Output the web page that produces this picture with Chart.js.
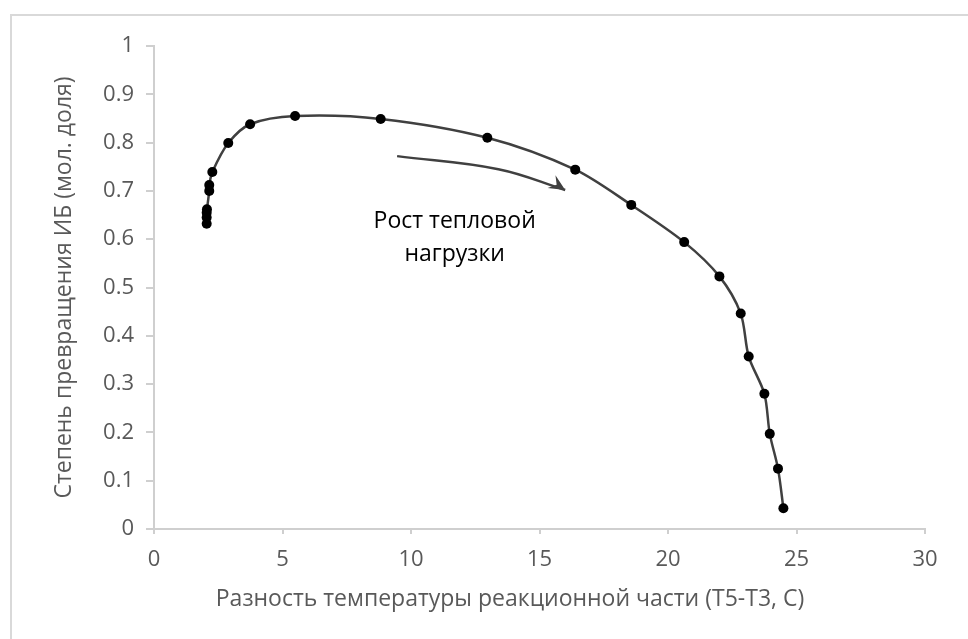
<!DOCTYPE html>
<html lang="ru">
<head>
    <meta charset="UTF-8">
    <title>Степень превращения ИБ</title>
    <style>
        html, body { margin: 0; padding: 0; background: #fff; overflow: hidden; }
        #wrap { position: relative; width: 968px; height: 639px; }
        #frame {
            position: absolute; left: 10px; top: 14px;
            width: 1000px; height: 700px;
            border: 2px solid #d9d9d9;
        }
        canvas { position: absolute; left: 0; top: 0; }
    </style>
    <script src="https://cdn.jsdelivr.net/npm/chart.js"></script>
</head>
<body>
<div id="wrap">
    <div id="frame"></div>
    <canvas id="chart" width="968" height="639"></canvas>
</div>
<script>
    // data
    const deltaT = [2.05, 2.05, 2.05, 2.06, 2.15, 2.15, 2.27, 2.89, 3.74, 5.49, 8.82, 12.97, 16.39, 18.57, 20.63, 22.0, 22.83, 23.14, 23.75, 23.96, 24.28, 24.49];
    const conversion = [0.632, 0.645, 0.655, 0.662, 0.700, 0.712, 0.739, 0.799, 0.838, 0.855, 0.849, 0.810, 0.744, 0.671, 0.594, 0.523, 0.446, 0.357, 0.280, 0.197, 0.125, 0.043];

    // arrow "Рост тепловой нагрузки" in data units
    const arrowX = [9.46, 13.4, 16.0];
    const arrowY = [0.772, 0.745, 0.702];
    const noteLines = ['Рост тепловой', 'нагрузки'];
    const noteX = 11.7;
    const noteY = [0.636, 0.569];

    const xTicks = [0, 5, 10, 15, 20, 25, 30];
    const yTicks = [0, 0.1, 0.2, 0.3, 0.4, 0.5, 0.6, 0.7, 0.8, 0.9, 1];
    const xTitle = 'Разность температуры реакционной части (T5-T3, C)';
    const yTitle = 'Степень превращения ИБ (мол. доля)';

    const FONT = 'Open Sans';
    const AXIS = '#cfcfcf';
    const LABEL = '#595959';

    const points = deltaT.map((x, i) => ({ x: x, y: conversion[i] }));
    const arrowPts = arrowX.map((x, i) => ({ x: x, y: arrowY[i] }));

    const extras = {
        id: 'extras',
        afterDatasetsDraw(chart) {
            const ctx = chart.ctx;
            const xs = chart.scales.x, ys = chart.scales.y;
            // arrow head
            const n = arrowX.length;
            const tx = xs.getPixelForValue(arrowX[n - 1]), ty = ys.getPixelForValue(arrowY[n - 1]);
            const px = xs.getPixelForValue(arrowX[n - 1] - 0.4);
            const py = ys.getPixelForValue(arrowY[n - 1] + 0.013);
            const a = Math.atan2(ty - py, tx - px);
            ctx.save();
            ctx.fillStyle = '#404040';
            ctx.beginPath();
            ctx.moveTo(tx, ty);
            ctx.lineTo(tx - 16 * Math.cos(a) + 7.5 * Math.sin(a), ty - 16 * Math.sin(a) - 7.5 * Math.cos(a));
            ctx.lineTo(tx - 10 * Math.cos(a), ty - 10 * Math.sin(a));
            ctx.lineTo(tx - 16 * Math.cos(a) - 7.5 * Math.sin(a), ty - 16 * Math.sin(a) + 7.5 * Math.cos(a));
            ctx.closePath();
            ctx.fill();
            // note text
            ctx.fillStyle = '#000';
            ctx.font = '23px "' + FONT + '"';
            ctx.textAlign = 'center';
            ctx.textBaseline = 'middle';
            noteLines.forEach((t, i) => {
                ctx.fillText(t, xs.getPixelForValue(noteX), ys.getPixelForValue(noteY[i]));
            });
            // x axis title (Excel puts it a bit left of the plot centre)
            ctx.fillStyle = LABEL;
            ctx.fillText(xTitle, 510, 599);
            ctx.restore();
        }
    };

    new Chart(document.getElementById('chart'), {
        type: 'scatter',
        data: {
            datasets: [
                {
                    data: arrowPts,
                    showLine: true,
                    borderColor: '#404040',
                    borderWidth: 2.5,
                    pointRadius: 0,
                    tension: 0.4
                },
                {
                    data: points,
                    showLine: true,
                    borderColor: '#404040',
                    borderWidth: 2.5,
                    tension: 0.3,
                    pointRadius: 5,
                    pointBackgroundColor: '#000',
                    pointBorderColor: '#000',
                    pointBorderWidth: 0
                }
            ]
        },
        plugins: [extras],
        options: {
            responsive: false,
            animation: false,
            events: [],
            layout: { padding: { left: 0, top: 46, right: 43, bottom: 0 } },
            plugins: {
                legend: { display: false },
                tooltip: { enabled: false }
            },
            scales: {
                x: {
                    type: 'linear',
                    min: 0, max: 30,
                    afterBuildTicks: s => { s.ticks = xTicks.map(v => ({ value: v })); },
                    afterFit: s => { s.height = 110; },
                    border: { color: AXIS, width: 2 },
                    grid: { drawOnChartArea: false, drawTicks: true, tickLength: 5, color: AXIS, lineWidth: 2 },
                    ticks: { color: LABEL, font: { family: FONT, size: 22 }, padding: 13, callback: v => String(v) }
                },
                y: {
                    type: 'linear',
                    min: 0, max: 1,
                    afterBuildTicks: s => { s.ticks = yTicks.map(v => ({ value: v })); },
                    afterFit: s => { s.width = 154; },
                    border: { color: AXIS, width: 2 },
                    grid: { drawOnChartArea: false, drawTicks: true, tickLength: 8, color: AXIS, lineWidth: 2 },
                    ticks: { color: LABEL, font: { family: FONT, size: 22 }, padding: 12, callback: v => String(v) },
                    title: {
                        display: true,
                        text: yTitle,
                        color: LABEL,
                        font: { family: FONT, size: 23 },
                        padding: { top: 51, bottom: 0 }
                    }
                }
            }
        }
    });
</script>
</body>
</html>
